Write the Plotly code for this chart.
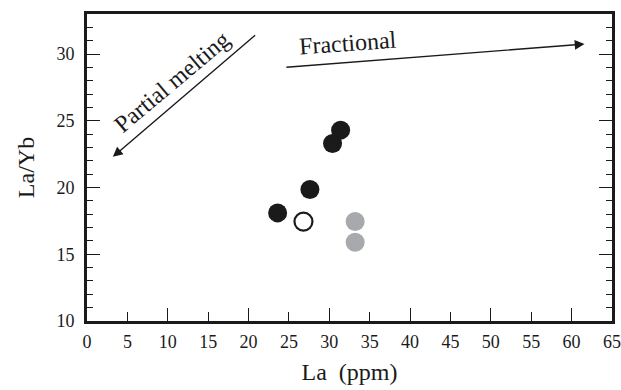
import plotly.graph_objects as go

# Data
black_la = [23.6, 27.6, 30.4, 31.4]
black_ratio = [18.1, 19.85, 23.3, 24.3]
open_la = [26.8]
open_ratio = [17.45]
gray_la = [33.2, 33.2]
gray_ratio = [17.45, 15.9]

x_ticks = [0, 5, 10, 15, 20, 25, 30, 35, 40, 45, 50, 55, 60, 65]
y_ticks = [10, 15, 20, 25, 30]

# Trend arrows (data coordinates): tail -> head
pm_tail = (21.0, 31.5)
pm_head = (3.2, 22.3)
fr_tail = (24.5, 29.0)
fr_head = (61.6, 30.75)

SERIF = "Liberation Serif"

fig = go.Figure()
fig.add_trace(go.Scatter(x=black_la, y=black_ratio, mode="markers",
                         marker=dict(size=19, color="#1a1a1a", line=dict(width=0)),
                         showlegend=False))
fig.add_trace(go.Scatter(x=open_la, y=open_ratio, mode="markers",
                         marker=dict(size=18, color="white", line=dict(width=2.2, color="#1a1a1a")),
                         showlegend=False))
fig.add_trace(go.Scatter(x=gray_la, y=gray_ratio, mode="markers",
                         marker=dict(size=19, color="#a7a9ac", line=dict(width=0)),
                         showlegend=False))
fig.add_trace(go.Scatter(x=[None], y=[None], xaxis="x2", showlegend=False))

fig.add_annotation(x=pm_head[0], y=pm_head[1], ax=pm_tail[0], ay=pm_tail[1],
                   xref="x", yref="y", axref="x", ayref="y",
                   showarrow=True, arrowhead=2, arrowsize=1.4, arrowwidth=1.4,
                   arrowcolor="#1a1a1a", text="")
fig.add_annotation(x=fr_head[0], y=fr_head[1], ax=fr_tail[0], ay=fr_tail[1],
                   xref="x", yref="y", axref="x", ayref="y",
                   showarrow=True, arrowhead=2, arrowsize=1.4, arrowwidth=1.4,
                   arrowcolor="#1a1a1a", text="")
fig.add_annotation(x=10.5, y=27.9, text="Partial melting", showarrow=False,
                   textangle=-40, font=dict(family=SERIF, size=24, color="#1a1a1a"))
fig.add_annotation(x=32.3, y=30.8, text="Fractional", showarrow=False,
                   textangle=-4, font=dict(family=SERIF, size=24, color="#1a1a1a"))

fig.update_layout(
    width=621, height=390,
    margin=dict(l=87, r=9, t=14, b=69, autoexpand=False),
    paper_bgcolor="white", plot_bgcolor="white",
    font=dict(family=SERIF, color="#1a1a1a"),
    xaxis=dict(range=[0, 65], tickvals=x_ticks, ticktext=[str(v) for v in x_ticks],
               ticks="inside", ticklen=9, tickwidth=1.2, tickcolor="#1a1a1a",
               showline=True, linewidth=2.6, linecolor="#1a1a1a", mirror=True,
               showgrid=False, zeroline=False, automargin=False,
               ticklabelstandoff=3,
               tickfont=dict(family=SERIF, size=18, color="#1a1a1a"),
               title=dict(text="La&nbsp;&nbsp;(ppm)", font=dict(family=SERIF, size=24), standoff=12)),
    xaxis2=dict(range=[0, 65], overlaying="x", side="bottom", matches="x",
                tickvals=x_ticks[::2], showticklabels=False, automargin=False,
                ticks="inside", ticklen=13, tickwidth=1.2, tickcolor="#1a1a1a",
                showline=False, showgrid=False, zeroline=False),
    yaxis=dict(range=[10, 33], tickvals=y_ticks,
               ticks="inside", ticklen=13, tickwidth=1.2, tickcolor="#1a1a1a",
               minor=dict(dtick=1, ticklen=6, tickwidth=1.2, tickcolor="#1a1a1a", ticks="inside"),
               showline=True, linewidth=2.6, linecolor="#1a1a1a", mirror="ticks",
               showgrid=False, zeroline=False, automargin=False,
               ticklabelstandoff=6,
               tickfont=dict(family=SERIF, size=18, color="#1a1a1a"),
               title=dict(text="La/Yb", font=dict(family=SERIF, size=24), standoff=16)),
)

fig.write_html("out.html", config={"displayModeBar": False},
               post_script="document.body.style.margin='0';document.body.style.overflow='hidden';")
